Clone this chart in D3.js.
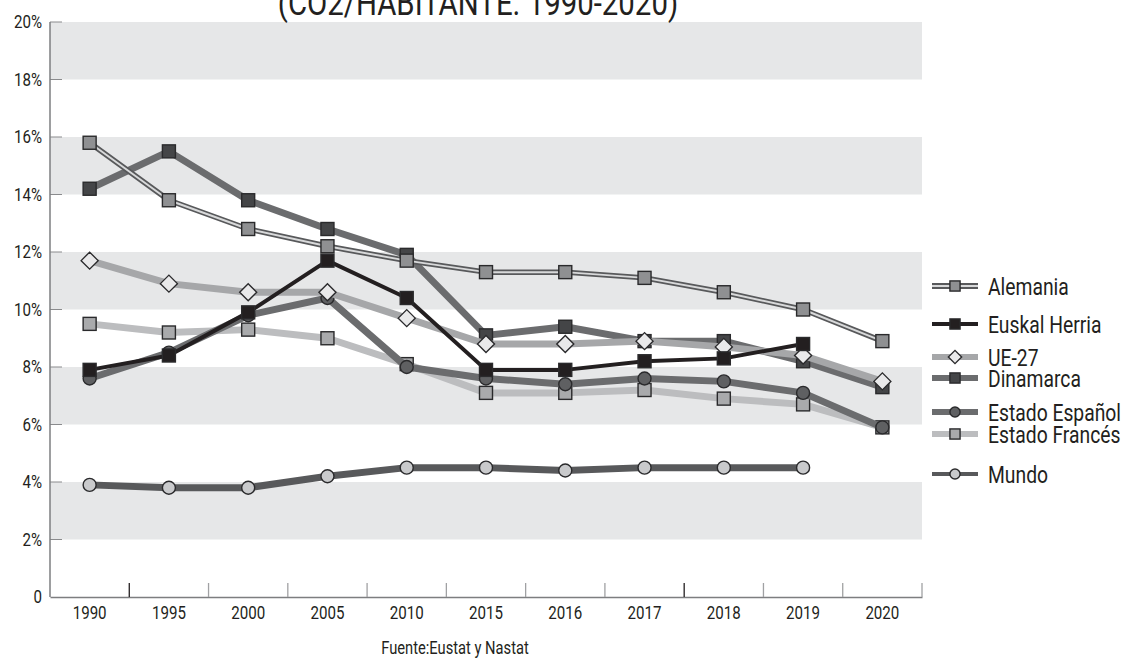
<!DOCTYPE html>
<html>
<head>
<meta charset="utf-8">
<script src="https://cdn.jsdelivr.net/npm/d3@7"></script>
<style>
  body { margin: 0; background: #fff; }
  text { font-family: Roboto, "Liberation Sans", sans-serif; fill: #231f20; }
</style>
</head>
<body>
<script>
var years = ["1990", "1995", "2000", "2005", "2010", "2015", "2016", "2017", "2018", "2019", "2020"];
var yTicks = [0, 2, 4, 6, 8, 10, 12, 14, 16, 18, 20];

var alemania      = [15.8, 13.8, 12.8, 12.2, 11.7, 11.3, 11.3, 11.1, 10.6, 10.0, 8.9];
var euskalHerria  = [7.9, 8.4, 9.9, 11.7, 10.4, 7.9, 7.9, 8.2, 8.3, 8.8, null];
var ue27          = [11.7, 10.9, 10.6, 10.6, 9.7, 8.8, 8.8, 8.9, 8.7, 8.4, 7.5];
var dinamarca     = [14.2, 15.5, 13.8, 12.8, 11.9, 9.1, 9.4, 8.9, 8.9, 8.2, 7.3];
var estadoEspanol = [7.6, 8.5, 9.8, 10.4, 8.0, 7.6, 7.4, 7.6, 7.5, 7.1, 5.9];
var estadoFrances = [9.5, 9.2, 9.3, 9.0, 8.1, 7.1, 7.1, 7.2, 6.9, 6.7, 5.9];
var mundo         = [3.9, 3.8, 3.8, 4.2, 4.5, 4.5, 4.4, 4.5, 4.5, 4.5, null];

// draw order bottom -> top
var series = [
  {name: "Mundo", values: mundo, line: "#58595b", width: 7, marker: "circle", fill: "#c9cacc", ly: 474},
  {name: "Estado Francés", values: estadoFrances, line: "#bcbdbf", width: 7, marker: "square", fill: "#a9aaac", ly: 434},
  {name: "Estado Español", values: estadoEspanol, line: "#6b6c6e", width: 7, marker: "circle", fill: "#5f6062", ly: 412},
  {name: "Dinamarca", values: dinamarca, line: "#6b6c6e", width: 7, marker: "square", fill: "#444547", ly: 378},
  {name: "UE-27", values: ue27, line: "#a6a7a9", width: 7, marker: "diamond", fill: "#e9e9ea", ly: 357},
  {name: "Euskal Herria", values: euskalHerria, line: "#231f20", width: 4, marker: "square", fill: "#231f20", ly: 324},
  {name: "Alemania", values: alemania, line: "#58595b", width: 5.5, inner: "#d8d9da", marker: "square", fill: "#8f9092", ly: 286}
];

var W = 1131, H = 658;
var narrow = 0.84; // condensed look of the original font
var svg = d3.select("body").append("svg")
  .attr("width", W).attr("height", H);

var x = d3.scaleBand().domain(years).range([50, 922]);
var y = d3.scaleLinear().domain([0, 20]).range([597, 22]);
var cx = function(d){ return x(d) + x.bandwidth() / 2; };

function label(px, py, str, size, anchor) {
  return svg.append("text")
    .attr("transform", "translate(" + px + "," + py + ") scale(" + narrow + ",1)")
    .attr("text-anchor", anchor || "start")
    .style("font-size", size + "px")
    .text(str);
}

// grey bands
svg.selectAll("rect.band")
  .data([18, 14, 10, 6, 2])
  .enter().append("rect")
  .attr("class", "band")
  .attr("x", 50).attr("width", 922 - 50)
  .attr("y", function(d){ return y(d + 2); })
  .attr("height", function(d){ return y(d) - y(d + 2); })
  .style("fill", "#e6e7e8");

// title (cut at the top like the original)
label(478, 15, "(CO2/HABITANTE. 1990-2020)", 35, "middle");

// y axis
var yAxis = d3.axisLeft(y).tickValues(yTicks)
  .tickSize(0)
  .tickFormat(function(d){ return d === 0 ? "0" : d + "%"; });
var gy = svg.append("g").attr("transform", "translate(50,0)").call(yAxis);
gy.select(".domain").remove();
gy.selectAll("text")
  .attr("x", -8 / narrow)
  .attr("transform", "scale(" + narrow + ",1)")
  .style("font-size", "18px").style("font-family", null).style("fill", "#231f20");
svg.selectAll("line.ytick")
  .data(yTicks.filter(function(d){ return d > 0; }))
  .enter().append("line")
  .attr("class", "ytick")
  .attr("x1", 50).attr("x2", 62)
  .attr("y1", function(d){ return y(d); }).attr("y2", function(d){ return y(d); })
  .style("stroke", "#8a8b8d").style("stroke-width", 1);
svg.append("line")
  .attr("x1", 50).attr("x2", 50).attr("y1", y(20)).attr("y2", y(0))
  .style("stroke", "#7d7e80").style("stroke-width", 1.5);

// x axis
var xAxis = d3.axisBottom(x).tickSize(0).tickPadding(9);
var gx = svg.append("g").attr("transform", "translate(0," + y(0) + ")").call(xAxis);
gx.select(".domain").style("stroke", "#7d7e80").style("stroke-width", 1.5);
gx.selectAll("text")
  .attr("transform", "scale(" + narrow + ",1)")
  .style("font-size", "18px").style("font-family", null).style("fill", "#231f20");
gx.selectAll(".tick").attr("transform", function(d){ return "translate(" + (cx(d) / narrow) * narrow + ",0)"; });
var seps = years.slice(1).map(function(d){ return x(d); }).concat([922]);
svg.selectAll("line.xsep")
  .data(seps)
  .enter().append("line")
  .attr("class", "xsep")
  .attr("x1", function(d){ return d; }).attr("x2", function(d){ return d; })
  .attr("y1", y(0) - 14).attr("y2", y(0))
  .style("stroke", function(d, i){ return (i === 0 || i === 7) ? "#231f20" : "#a0a1a3"; })
  .style("stroke-width", 1.3);

function drawMarker(g, s, px, py, k) {
  var m;
  if (s.marker === "circle") {
    m = g.append("circle").attr("cx", px).attr("cy", py).attr("r", 6.5 * k);
  } else if (s.marker === "diamond") {
    var r = 8.5 * k;
    m = g.append("path").attr("d", "M" + px + "," + (py - r) + "L" + (px + r) + "," + py +
      "L" + px + "," + (py + r) + "L" + (px - r) + "," + py + "Z");
  } else {
    var h = 6.5 * k;
    m = g.append("rect").attr("x", px - h).attr("y", py - h).attr("width", 2 * h).attr("height", 2 * h);
  }
  m.style("fill", s.fill).style("stroke", "#2a2a2c").style("stroke-width", 1.4);
}

var line = d3.line()
  .defined(function(d){ return d.v !== null; })
  .x(function(d){ return cx(d.year); })
  .y(function(d){ return y(d.v); });

series.forEach(function(s){
  var pts = years.map(function(yr, i){ return {year: yr, v: s.values[i]}; });
  var g = svg.append("g");
  g.append("path").datum(pts).attr("d", line)
    .style("fill", "none").style("stroke", s.line).style("stroke-width", s.width)
    .style("stroke-linejoin", "round");
  if (s.inner) {
    g.append("path").datum(pts).attr("d", line)
      .style("fill", "none").style("stroke", s.inner).style("stroke-width", 2)
      .style("stroke-linejoin", "round");
  }
  pts.filter(function(d){ return d.v !== null; }).forEach(function(d){
    drawMarker(g, s, cx(d.year), y(d.v), 1);
  });
});

// legend
series.forEach(function(s){
  var g = svg.append("g");
  var lw = s.name === "Mundo" || s.name === "Euskal Herria" ? 4 : 6;
  g.append("line").attr("x1", 932).attr("x2", 978).attr("y1", s.ly).attr("y2", s.ly)
    .style("stroke", s.line).style("stroke-width", lw);
  if (s.inner) {
    g.append("line").attr("x1", 932).attr("x2", 978).attr("y1", s.ly).attr("y2", s.ly)
      .style("stroke", s.inner).style("stroke-width", 2);
  }
  drawMarker(g, s, 955, s.ly, 0.78);
  label(988, s.ly + 8.5, s.name, 23);
});

// source
label(455, 654, "Fuente:Eustat y Nastat", 17.5, "middle");
</script>
</body>
</html>
